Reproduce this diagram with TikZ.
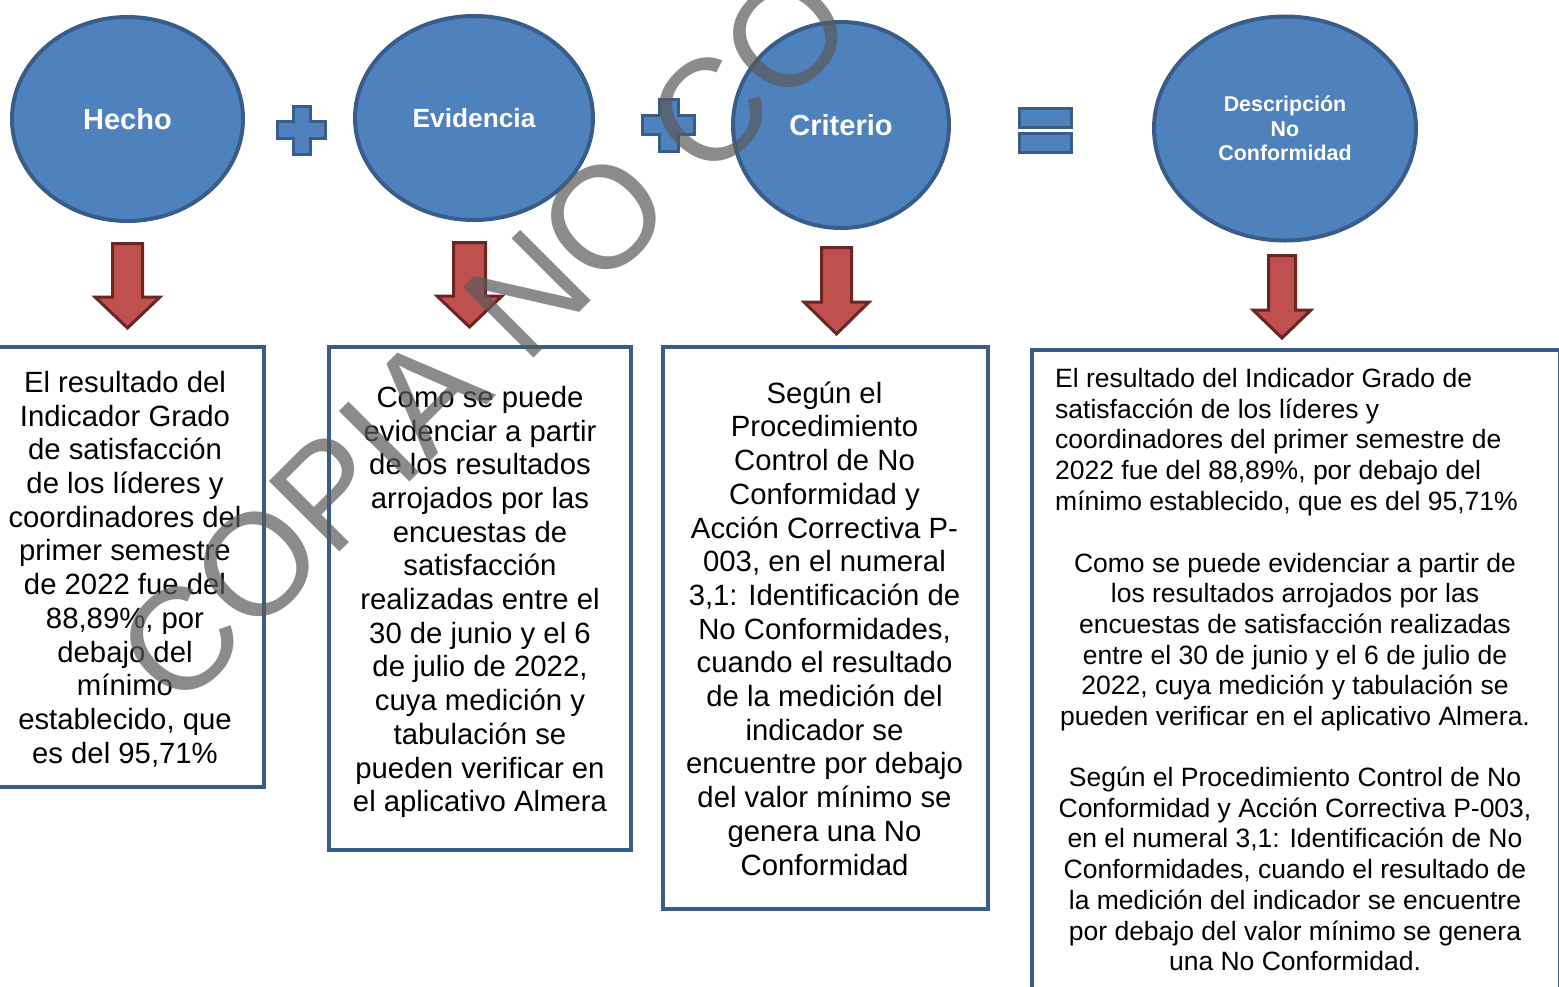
\documentclass[tikz,border=0pt]{standalone}
\usepackage{fontspec}
\setmainfont{Liberation Sans}
\usetikzlibrary{shapes.geometric}
\definecolor{cfill}{HTML}{4F81BD}
\definecolor{cline}{HTML}{385D8A}
\definecolor{afill}{HTML}{C0504D}
\definecolor{aline}{HTML}{6B2523}
\definecolor{wmgray}{RGB}{90,90,90}
\newcommand\blockdown[6]{\draw[downarr] (#1-#5,#2) -- (#1+#5,#2) -- (#1+#5,#3) -- (#1+#6,#3) -- (#1,#4) -- (#1-#6,#3) -- (#1-#5,#3) -- cycle;}
\newcommand\plusshape[4]{\draw[opbox] (#1-#4,#2-#3) -- (#1+#4,#2-#3) -- (#1+#4,#2-#4) -- (#1+#3,#2-#4) -- (#1+#3,#2+#4) -- (#1+#4,#2+#4) -- (#1+#4,#2+#3) -- (#1-#4,#2+#3) -- (#1-#4,#2+#4) -- (#1-#3,#2+#4) -- (#1-#3,#2-#4) -- (#1-#4,#2-#4) -- cycle;}
\begin{document}
\begin{tikzpicture}[x=1pt,y=-1pt,
  circ/.style={ellipse, draw=cline, fill=cfill, line width=4pt, inner sep=0pt, text=white, align=center},
  opbox/.style={draw=cline, fill=cfill, line width=3pt},
  downarr/.style={draw=aline, fill=afill, line width=3pt, line join=miter},
  txtbox/.style={rectangle, draw=cline, line width=4pt, inner sep=0pt},
  body/.style={align=center, inner sep=0pt, font=\fontsize{29.3}{33.7}\selectfont},
  bodyfour/.style={inner sep=0pt, font=\fontsize{26.5}{30.7}\selectfont}]
\useasboundingbox (0,0) rectangle (1559,986);
\clip (0,0) rectangle (1559,986);

% circles
\node[circ, minimum width=231pt, minimum height=204pt, font=\bfseries\fontsize{29}{33}\selectfont] (hecho) at (127.5,119) {Hecho};
\node[circ, minimum width=238pt, minimum height=204pt, font=\bfseries\fontsize{26.3}{30}\selectfont] (evid) at (474,118) {Evidencia};
\node[circ, minimum width=216pt, minimum height=206pt, font=\bfseries\fontsize{29}{33}\selectfont] (crit) at (841,125) {Criterio};
\node[circ, minimum width=262pt, minimum height=224pt, font=\bfseries\fontsize{21.4}{24.5}\selectfont] (desc) at (1285,128.5) {Descripción\\No\\Conformidad};

% operators
\plusshape{301.5}{130}{24}{8.5}
\plusshape{668.5}{125}{26}{9.5}
\draw[opbox] (1019.5,108.5) rectangle (1071.5,127.5);
\draw[opbox] (1019.5,133.5) rectangle (1071.5,152.5);

% arrows
\blockdown{127.5}{243.5}{297}{328}{15}{32.5}
\blockdown{469.5}{242.5}{296}{327}{16}{32.5}
\blockdown{836.5}{247.5}{302}{334}{15}{32.5}
\blockdown{1282}{255.5}{310}{338}{13.5}{29}

% boxes
\node[txtbox, minimum width=266pt, minimum height=440pt] (b1) at (131,567) {};
\node[txtbox, minimum width=302pt, minimum height=503pt] (b2) at (480,598.5) {};
\node[txtbox, minimum width=325pt, minimum height=562pt] (b3) at (825.5,628) {};
\node[txtbox, minimum width=528pt, minimum height=680pt] (b4) at (1296,690) {};

\node[body] (t1) at (125,569) {El resultado del\\Indicador Grado\\de satisfacción\\de los líderes y\\coordinadores del\\primer semestre\\de 2022 fue del\\88,89\%, por\\debajo del\\mínimo\\establecido, que\\es del 95,71\%};
\node[body] (t2) at (480,602) {Como se puede\\evidenciar a partir\\de los resultados\\arrojados por las\\encuestas de\\satisfacción\\realizadas entre el\\30 de junio y el 6\\de julio de 2022,\\cuya medición y\\tabulación se\\pueden verificar en\\el aplicativo Almera};
\node[body] (t3) at (824.5,628.5) {Según el\\Procedimiento\\Control de No\\Conformidad y\\Acción Correctiva P-\\003, en el numeral\\3,1: Identificación de\\No Conformidades,\\cuando el resultado\\de la medición del\\indicador se\\encuentre por debajo\\del valor mínimo se\\genera una No\\Conformidad};

\node[bodyfour, align=left, anchor=west] (t4a) at (1055,442) {El resultado del Indicador Grado de\\satisfacción de los líderes y\\coordinadores del primer semestre de\\2022 fue del 88,89\%, por debajo del\\mínimo establecido, que es del 95,71\%};
\node[bodyfour, align=center] (t4b) at (1295,642) {Como se puede evidenciar a partir de\\los resultados arrojados por las\\encuestas de satisfacción realizadas\\entre el 30 de junio y el 6 de julio de\\2022, cuya medición y tabulación se\\pueden verificar en el aplicativo Almera.};
\node[bodyfour, align=center] (t4c) at (1295,869) {Según el Procedimiento Control de No\\Conformidad y Acción Correctiva P-003,\\en el numeral 3,1: Identificación de No\\Conformidades, cuando el resultado de\\la medición del indicador se encuentre\\por debajo del valor mínimo se genera\\una No Conformidad.};

% watermark
\node[rotate=45, anchor=base west, inner sep=0pt, text=wmgray, text opacity=0.7, font=\fontsize{145}{145}\selectfont] (wm) at (178,714) {COPIA NO CO};
\end{tikzpicture}
\end{document}
